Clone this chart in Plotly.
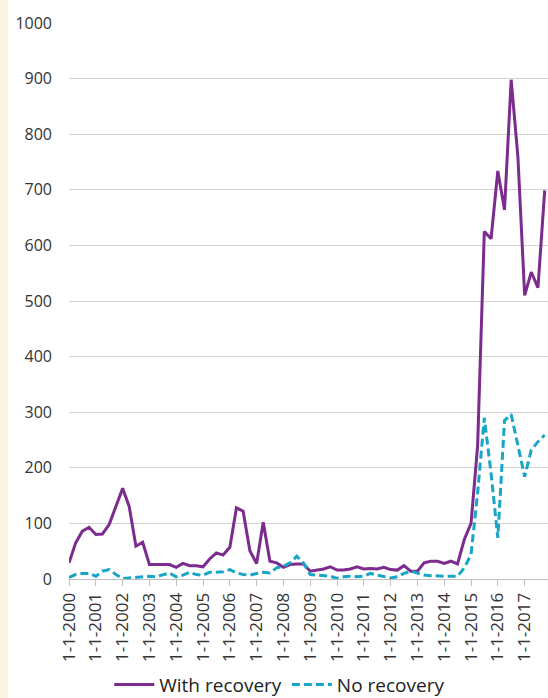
import pandas as pd
import plotly.graph_objects as go

# Quarterly observations, 2000 Q1 .. 2017 Q4
with_recovery = [
    29, 65, 86, 93,
    80, 81, 98, 130,
    163, 130, 59, 66,
    26, 26, 26, 26,
    21, 28, 24, 24,
    22, 36, 47, 43,
    57, 128, 122, 51,
    28, 102, 32, 29,
    21, 26, 27, 27,
    14, 16, 18, 22,
    16, 16, 18, 22,
    18, 19, 18, 21,
    17, 16, 24, 14,
    14, 29, 32, 32,
    28, 32, 27, 71,
    100, 240, 625, 612,
    734, 664, 898, 759,
    510, 552, 524, 699,
]
no_recovery = [
    3, 8, 10, 10,
    5, 14, 17, 8,
    1, 2, 4, 4,
    5, 4, 7, 11,
    4, 7, 12, 8,
    7, 12, 12, 13,
    17, 11, 8, 7,
    10, 12, 11, 20,
    23, 29, 41, 29,
    8, 7, 7, 5,
    1, 4, 5, 4,
    5, 10, 7, 5,
    2, 4, 10, 14,
    11, 7, 6, 5,
    5, 5, 5, 20,
    44, 155, 290, 190,
    74, 285, 296, 240,
    184, 232, 247, 259,
]
dates = pd.date_range("2000-01-01", periods=len(with_recovery), freq="QS")

tick_years = list(range(2000, 2018))
tick_vals = [f"{y}-01-01" for y in tick_years]
tick_text = [f"1-1-{y}" for y in tick_years]

series_names = ["With recovery", "No recovery"]

FONT = "Open Sans"
fig = go.Figure()
fig.add_trace(go.Scatter(
    x=dates, y=with_recovery, mode="lines", name=series_names[0],
    line=dict(color="#7b2c8e", width=3),
))
fig.add_trace(go.Scatter(
    x=dates, y=no_recovery, mode="lines", name=series_names[1],
    line=dict(color="#18a6c6", width=3, dash="8px,4px"),
))

fig.update_layout(
    width=548, height=698,
    margin=dict(l=69, r=0, t=23, b=119, autoexpand=False),
    paper_bgcolor="white", plot_bgcolor="white",
    font=dict(family=FONT, size=17, color="#333333"),
    showlegend=True,
    legend=dict(orientation="h", x=0.44, xanchor="center", y=-0.19, yanchor="middle",
                font=dict(size=19, color="#222222"), itemwidth=40, bgcolor="rgba(0,0,0,0)"),
    shapes=[dict(type="rect", xref="paper", yref="paper", x0=-0.15, x1=-0.127, y0=-0.3, y1=1.1,
                 fillcolor="#fbf4e2", line=dict(width=0), layer="below")],
)
fig.update_xaxes(
    type="date", range=["2000-01-01", "2017-11-15"], automargin=False,
    tickmode="array", tickvals=tick_vals, ticktext=tick_text, tickangle=-90,
    showgrid=False, showline=True, linecolor="#bfbfbf", linewidth=1,
    ticks="outside", ticklen=6, tickcolor="#bfbfbf",
    tickfont=dict(size=17, color="#333333"),
)
fig.update_yaxes(
    range=[0, 1000], dtick=100, showgrid=True, gridcolor="#d3d3d3", gridwidth=1,
    zeroline=False, showline=False, ticks="", ticklabelstandoff=16, automargin=False,
    tickfont=dict(size=16, color="#333333"),
)
fig.write_html("out.html", post_script="document.body.style.margin='0';",
               config={"displayModeBar": False})
